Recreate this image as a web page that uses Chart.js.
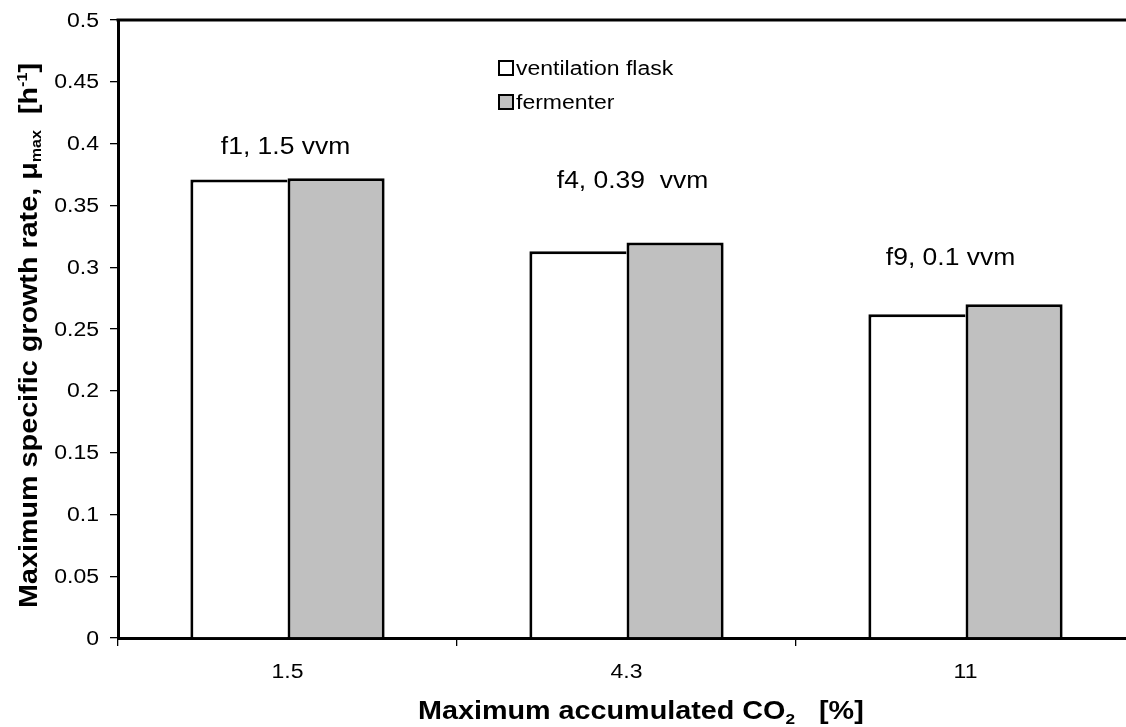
<!DOCTYPE html>
<html>
<head>
<meta charset="utf-8">
<script src="https://cdn.jsdelivr.net/npm/chart.js@4/dist/chart.umd.min.js"></script>
<style>
  html, body { margin: 0; padding: 0; background: #ffffff; overflow: hidden; }
  #wrap { width: 1140px; height: 727px; }
</style>
</head>
<body>
<div id="wrap"><canvas id="chart" width="1140" height="727"></canvas></div>
<script>
// Maximum accumulated CO2 [%] on the category axis
const categories = ['1.5', '4.3', '11'];
// Maximum specific growth rate [1/h]
const flaskValues = [0.371, 0.313, 0.262];
const fermenterValues = [0.372, 0.320, 0.270];
const seriesNames = ['ventilation flask', 'fermenter'];
// y-axis ticks
const yTickValues = [0, 0.05, 0.1, 0.15, 0.2, 0.25, 0.3, 0.35, 0.4, 0.45, 0.5];
// aeration notes above each pair of bars and the level (in axis units) they sit at
const noteLabels = ['f1, 1.5 vvm', 'f4, 0.39  vvm', 'f9, 0.1 vvm'];
const noteLevels = [0.397, 0.369, 0.307];

const FONT = '"Liberation Sans", Arial, Helvetica, sans-serif';
const BLACK = '#000000';
const SX = 1.15; // horizontal widening of the lettering

function fmtTick(v) {
  return String(Number(v.toFixed(2)));
}

// draws one string widened along its reading direction
function wideText(ctx, str, x, y, font, align, baseline) {
  ctx.save();
  ctx.font = font;
  ctx.textAlign = align;
  ctx.textBaseline = baseline;
  ctx.translate(x, y);
  ctx.scale(SX, 1);
  ctx.fillText(str, 0, 0);
  ctx.restore();
}

// draws a run of pieces (for sub/superscripts) starting at the current origin
function runPieces(ctx, parts) {
  ctx.textAlign = 'left';
  ctx.textBaseline = 'alphabetic';
  let x = 0;
  parts.forEach(p => {
    ctx.font = p.f;
    ctx.fillText(p.t, x, p.dy);
    x += ctx.measureText(p.t).width;
  });
}

const decorations = {
  id: 'decorations',
  afterDraw(chart) {
    const ctx = chart.ctx;
    const area = chart.chartArea;
    const xs = chart.scales.x;
    const ys = chart.scales.y;
    ctx.save();
    ctx.fillStyle = BLACK;

    // top and right edges of the plot frame
    ctx.strokeStyle = BLACK;
    ctx.lineWidth = 3;
    ctx.beginPath();
    ctx.moveTo(area.left - 1.5, area.top);
    ctx.lineTo(area.right, area.top);
    ctx.lineTo(area.right, area.bottom);
    ctx.stroke();

    // tick labels
    const tickFont = '20px ' + FONT;
    ys.ticks.forEach(t => {
      wideText(ctx, fmtTick(t.value), area.left - 19, ys.getPixelForValue(t.value) + 1, tickFont, 'right', 'middle');
    });
    categories.forEach((c, i) => {
      wideText(ctx, c, xs.getPixelForValue(i), area.bottom + 34, tickFont, 'center', 'middle');
    });

    // notes above the bar pairs
    const shifts = [-2, 6, -15];
    noteLabels.forEach((t, i) => {
      wideText(ctx, t, xs.getPixelForValue(i) + shifts[i], ys.getPixelForValue(noteLevels[i]),
        '23px ' + FONT, 'center', 'middle');
    });

    // legend
    const ds = chart.data.datasets;
    const lx = 499, rows = [68, 102], box = 14;
    ds.forEach((d, i) => {
      const cy = rows[i];
      ctx.fillStyle = d.backgroundColor;
      ctx.fillRect(lx, cy - box / 2, box, box);
      ctx.lineWidth = 2;
      ctx.strokeStyle = BLACK;
      ctx.strokeRect(lx, cy - box / 2, box, box);
      ctx.fillStyle = BLACK;
      wideText(ctx, d.label, lx + box + 3, cy + 1, '20px ' + FONT, 'left', 'middle');
    });

    const big = 'bold 25px ' + FONT, small = 'bold 15px ' + FONT, tiny = 'bold 14px ' + FONT;

    // x-axis title: Maximum accumulated CO2   [%]
    ctx.save();
    ctx.translate(418, 719);
    ctx.scale(SX, 1);
    runPieces(ctx, [
      { t: 'Maximum accumulated CO', f: big, dy: 0 },
      { t: '2', f: small, dy: 5 },
      { t: '   [%]', f: big, dy: 0 }
    ]);
    ctx.restore();

    // y-axis title, reading upwards: Maximum specific growth rate, μmax  [h-1]
    ctx.save();
    ctx.translate(37, 608);
    ctx.rotate(-Math.PI / 2);
    ctx.scale(SX, 1);
    runPieces(ctx, [
      { t: 'Maximum specific growth rate, \u03bc', f: big, dy: 0 },
      { t: 'max', f: tiny, dy: 4 },
      { t: '  [h', f: big, dy: 0 },
      { t: '-1', f: tiny, dy: -10 },
      { t: ']', f: big, dy: 0 }
    ]);
    ctx.restore();

    ctx.restore();
  }
};

new Chart(document.getElementById('chart'), {
  type: 'bar',
  data: {
    labels: categories,
    datasets: [
      {
        label: seriesNames[0],
        data: flaskValues,
        backgroundColor: '#ffffff',
        borderColor: BLACK,
        borderWidth: { top: 3, left: 3, right: 0, bottom: 0 },
        borderSkipped: false,
        categoryPercentage: 0.573,
        barPercentage: 1.0
      },
      {
        label: seriesNames[1],
        data: fermenterValues,
        backgroundColor: '#c0c0c0',
        borderColor: BLACK,
        borderWidth: { top: 3, left: 3, right: 3, bottom: 0 },
        borderSkipped: false,
        categoryPercentage: 0.573,
        barPercentage: 1.0
      }
    ]
  },
  options: {
    responsive: false,
    animation: false,
    devicePixelRatio: 1,
    layout: { padding: { top: 20, right: 5, left: 0, bottom: 0 } },
    plugins: {
      legend: { display: false },
      tooltip: { enabled: false },
      title: { display: false }
    },
    scales: {
      x: {
        type: 'category',
        offset: true,
        grid: {
          display: true,
          offset: true,
          drawOnChartArea: false,
          drawTicks: true,
          tickLength: 8,
          color: BLACK,
          lineWidth: 1.3
        },
        border: { display: true, color: BLACK, width: 3 },
        ticks: { display: false },
        afterFit(s) { s.height = 89; }
      },
      y: {
        min: 0,
        max: 0.5,
        afterBuildTicks(s) { s.ticks = yTickValues.map(v => ({ value: v })); },
        grid: {
          display: true,
          drawOnChartArea: false,
          drawTicks: true,
          tickLength: 8,
          color: BLACK,
          lineWidth: 1.3
        },
        border: { display: true, color: BLACK, width: 3 },
        ticks: { display: false },
        afterFit(s) { s.width = 118; }
      }
    }
  },
  plugins: [decorations]
});
</script>
</body>
</html>
